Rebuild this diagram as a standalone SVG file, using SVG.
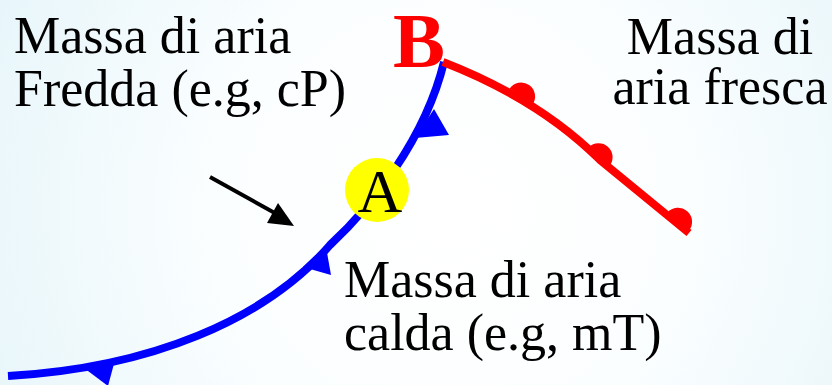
<svg xmlns="http://www.w3.org/2000/svg" width="832" height="385" viewBox="0 0 832 385">
  <defs>
    <radialGradient id="bg" cx="450" cy="210" r="520" gradientUnits="userSpaceOnUse">
      <stop offset="0" stop-color="#ffffff"/>
      <stop offset="0.45" stop-color="#fbfeff"/>
      <stop offset="1" stop-color="#e6f5fa"/>
    </radialGradient>
    <style>
      .lbl { font-family: "Liberation Serif", "Times New Roman", serif; font-size: 52px; fill: #000; }
      .mid { text-anchor: middle; }
      .cold { fill: none; stroke: #0000ff; stroke-width: 8; stroke-linecap: butt; }
      .tri { fill: #0000ff; }
      .warm { fill: none; stroke: #ff0000; stroke-width: 8; }
      .dome { fill: #ff0000; }
    </style>
  </defs>
  <rect x="0" y="0" width="832" height="385" fill="url(#bg)"/>

  <g id="connectors">
    <g id="cold-front">
      <path class="cold" d="M8,376 C150,368 265,320 330,245 C370,208 425,140 444,62"/>
      <polygon class="tri" points="434,109 449,135 415,138"/>
      <polygon class="tri" points="326,247 331,275 303,267"/>
      <polygon class="tri" points="115,360 108,386 84,368"/>
    </g>
    <g id="warm-front">
      <path class="warm" d="M443,62 C510,88 560,120 600,160 L689,233"/>
      <path class="dome" d="M509.6,88.4 A14,14 0 0 1 532.6,104.4 Z"/>
      <path class="dome" d="M588.8,147.3 A14,14 0 0 1 609.8,165.7 Z"/>
      <path class="dome" d="M667.5,212.6 A14,14 0 0 1 689.1,230.4 Z"/>
    </g>
    <g id="flow-arrow">
      <line x1="210" y1="177" x2="282" y2="217" stroke="#000" stroke-width="4"/>
      <polygon points="278,203 294,226 267,223" fill="#000"/>
    </g>
  </g>

  <g id="cold-air">
    <text class="lbl" x="14" y="53">Massa di aria</text>
    <text class="lbl" x="14" y="106">Fredda (e.g, cP)</text>
  </g>
  <g id="cool-air">
    <text class="lbl mid" x="720" y="54">Massa di</text>
    <text class="lbl mid" x="720" y="104">aria fresca</text>
  </g>
  <g id="warm-air">
    <text class="lbl" x="344" y="297">Massa di aria</text>
    <text class="lbl" x="344" y="350">calda (e.g, mT)</text>
  </g>
  <g id="point-a">
    <circle cx="377" cy="190" r="32" fill="#ffff00"/>
    <text x="380" y="212" text-anchor="middle" font-family="Liberation Serif, Times New Roman, serif" font-size="62" fill="#000">A</text>
  </g>
  <g id="point-b">
    <text x="419" y="67" text-anchor="middle" font-family="Liberation Serif, Times New Roman, serif" font-size="78" font-weight="bold" fill="#ff0000">B</text>
  </g>
</svg>
